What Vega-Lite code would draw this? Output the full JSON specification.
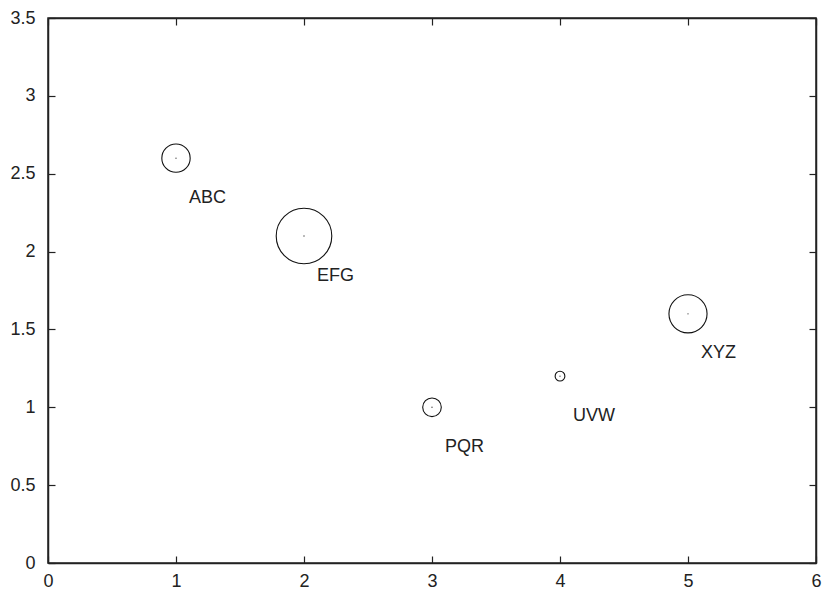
{
  "$schema": "https://vega.github.io/schema/vega-lite/v6.json",
  "width": 768,
  "height": 545,
  "autosize": {"type": "none"},
  "padding": {"left": 48, "top": 18, "right": 7, "bottom": 27},
  "background": "white",
  "config": {
    "view": {"stroke": "#222", "strokeWidth": 1.5},
    "axis": {
      "grid": false,
      "domainColor": "#222",
      "domainWidth": 1.5,
      "tickColor": "#222",
      "tickWidth": 1.2,
      "tickSize": -7,
      "labelFont": "Liberation Sans",
      "labelFontSize": 18,
      "labelColor": "#222",
      "title": null
    }
  },
  "data": {
    "values": [
      {"x": 1, "y": 2.6, "r": 0.125, "label": "ABC"},
      {"x": 2, "y": 2.1, "r": 0.245, "label": "EFG"},
      {"x": 3, "y": 1.0, "r": 0.082, "label": "PQR"},
      {"x": 4, "y": 1.2, "r": 0.043, "label": "UVW"},
      {"x": 5, "y": 1.6, "r": 0.168, "label": "XYZ"}
    ]
  },
  "resolve": {"axis": {"x": "independent", "y": "independent"}},
  "layer": [
    {
      "mark": {"type": "point", "shape": "circle", "filled": false, "stroke": "#111", "strokeWidth": 1.1, "opacity": 1},
      "encoding": {
        "x": {"field": "x", "type": "quantitative", "scale": {"domain": [0, 6], "nice": false, "zero": false},
              "axis": {"values": [0, 1, 2, 3, 4, 5, 6], "format": "~g", "labelPadding": 16, "labelFlush": false, "labelOverlap": false}},
        "y": {"field": "y", "type": "quantitative", "scale": {"domain": [0, 3.5], "nice": false, "zero": false},
              "axis": {"values": [0, 0.5, 1, 1.5, 2, 2.5, 3, 3.5], "format": "~g", "labelPadding": 20, "labelFlush": false, "labelOverlap": false}},
        "size": {"field": "r", "type": "quantitative", "scale": {"type": "pow", "exponent": 2, "domain": [0, 0.25], "range": [0, 3217], "zero": true}, "legend": null}
      }
    },
    {
      "mark": {"type": "point", "shape": "circle", "filled": true, "color": "#444", "size": 2, "opacity": 1},
      "encoding": {
        "x": {"field": "x", "type": "quantitative", "axis": {"orient": "top", "values": [0, 1, 2, 3, 4, 5, 6], "labels": false}},
        "y": {"field": "y", "type": "quantitative", "axis": {"orient": "right", "values": [0, 0.5, 1, 1.5, 2, 2.5, 3, 3.5], "labels": false}}
      }
    },
    {
      "mark": {"type": "text", "align": "left", "baseline": "middle", "dx": 13, "dy": 39.5, "font": "Liberation Sans", "fontSize": 18, "color": "#222"},
      "encoding": {
        "x": {"field": "x", "type": "quantitative", "axis": null},
        "y": {"field": "y", "type": "quantitative", "axis": null},
        "text": {"field": "label"}
      }
    }
  ]
}
